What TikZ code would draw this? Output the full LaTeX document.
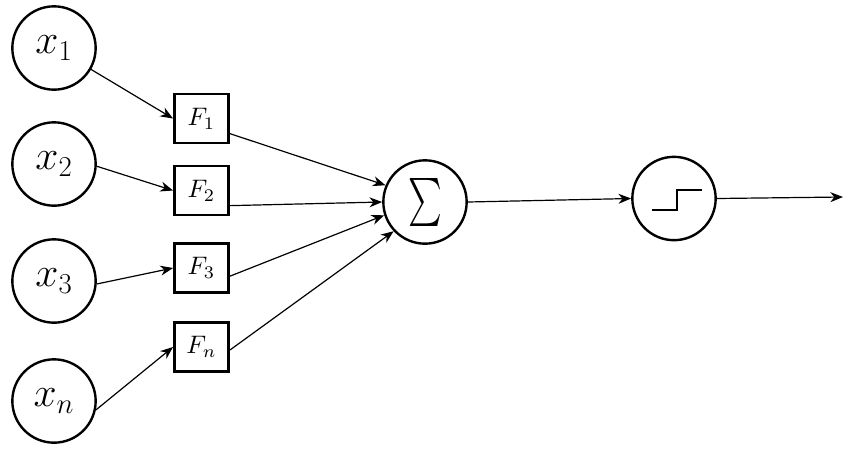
\documentclass[tikz,border=0pt]{standalone}
\usepackage{graphicx}
\usetikzlibrary{arrows.meta}
\newcommand{\inlabel}[1]{\scalebox{1.25}{$#1$}}
\newcommand{\fnlabel}[1]{\scalebox{1.9}{$#1$}}
\begin{document}
\begin{tikzpicture}[x=0.75pt, y=-0.75pt,
    input/.style={circle, draw=black, line width=1.8pt, minimum size=62.5pt,
        inner sep=0pt, font=\fontsize{24}{26}\selectfont},
    func/.style={rectangle, draw=black, line width=2.2pt, minimum width=40.5pt,
        minimum height=36.75pt, inner sep=0pt},
    unit/.style={circle, draw=black, line width=1.8pt, minimum size=62.5pt,
        inner sep=0pt},
    edge/.style={line width=0.9pt, -{Stealth[length=9.5pt, width=7.5pt, inset=3pt]}}
]
    \useasboundingbox (0,0) rectangle (849,451);
    \node[input] (x1) at (54,48) {\inlabel{x_1}};
    \node[input] (x2) at (54,164) {\inlabel{x_2}};
    \node[input] (x3) at (54,281) {\inlabel{x_3}};
    \node[input] (xn) at (54,401) {\inlabel{x_n}};
    \node[func] (F1) at (201.5,118.5) {\fnlabel{F_1}};
    \node[func] (F2) at (201.5,190.5) {\fnlabel{F_2}};
    \node[func] (F3) at (201.5,268) {\fnlabel{F_3}};
    \node[func] (Fn) at (201.5,347) {\fnlabel{F_n}};
    \node[unit] (sum) at (425,202) {\scalebox{2.4}[3.6]{$\sum$}};
    \node[unit] (act) at (674,198.5) {};
    \coordinate (out) at (843,197);
    \draw[line width=1.5pt] (act.center) ++(-22,11.5) -- ++(25,0) -- ++(0,-20) -- ++(25,0);
    \draw[edge] (x1.-30) -- (F1.west);
    \draw[edge] (x2.-3) -- (F2.west);
    \draw[edge] (x3.-4) -- (F3.west);
    \draw[edge] (xn.-12) -- (Fn.west);
    \draw[edge] (F1.-28) -- (sum.157);
    \draw[edge] (F2.-28) -- (sum.180);
    \draw[edge] (F3.-16) -- (sum.198);
    \draw[edge] (Fn.-6) -- (sum.223);
    \draw[edge] (sum.east) -- (act.west);
    \draw[edge] (act.east) -- (out);
\end{tikzpicture}
\end{document}
